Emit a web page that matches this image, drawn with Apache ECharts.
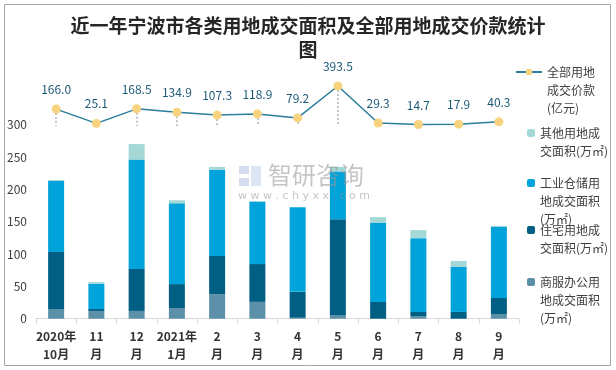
<!DOCTYPE html>
<html>
<head>
<meta charset="utf-8">
<script src="https://cdn.jsdelivr.net/npm/echarts@6/dist/echarts.min.js"></script>
<style>html,body{margin:0;padding:0;background:#fff;}#c{width:616px;height:370px;}</style>
</head>
<body>
<div id="c"></div>
<script>
var categories = ['2020年\n10月','11\n月','12\n月','2021年\n1月','2\n月','3\n月','4\n月','5\n月','6\n月','7\n月','8\n月','9\n月'];
var commercial = [15, 12, 12, 16.5, 38, 26, 1.5, 5.7, 0, 4, 0, 7.3];
var residential = [88, 3, 65, 37, 59, 58.5, 40, 148, 26, 6.5, 10.5, 24.7];
var industrial = [110, 39, 169, 125, 133, 96, 131, 74, 122, 114, 69.5, 110];
var other = [1.5, 2.6, 24, 4.7, 4.7, 1.5, 0, 7, 9, 12.5, 9.3, 1.6];
var price = [166.0, 25.1, 168.5, 134.9, 107.3, 118.9, 79.2, 393.5, 29.3, 14.7, 17.9, 40.3];
var leftTicks = [0, 50, 100, 150, 200, 250, 300];

var names = {
  price: '全部用地成交价款(亿元)',
  other: '其他用地成交面积(万㎡)',
  industrial: '工业仓储用地成交面积(万㎡)',
  residential: '住宅用地成交面积(万㎡)',
  commercial: '商服办公用地成交面积(万㎡)'
};
var legendText = {};
legendText[names.price] = '\n\n全部用地\n成交价款\n(亿元)';
legendText[names.other] = '\n其他用地成\n交面积(万㎡)';
legendText[names.industrial] = '\n\n工业仓储用\n地成交面积\n(万㎡)';
legendText[names.residential] = '\n住宅用地成\n交面积(万㎡)';
legendText[names.commercial] = '\n\n商服办公用\n地成交面积\n(万㎡)';

var colors = {
  other: '#a3d8d6',
  industrial: '#00a3da',
  residential: '#005f83',
  commercial: '#5b90a8',
  line: '#2b7d9c',
  marker: '#f8d37f'
};

var font = "'Noto Sans CJK SC', 'Noto Sans', sans-serif";
var legendBase = {
  orient: 'vertical', padding: 0, itemGap: 0,
  textStyle: {fontSize: 12, color: '#404040', lineHeight: 18, fontFamily: font},
  formatter: function (n) { return legendText[n]; },
  selectedMode: false
};
function mkLegend(name, left, top, w, h) {
  var o = Object.assign({}, legendBase);
  o.data = [name]; o.left = left; o.top = top;
  o.itemWidth = w; o.itemHeight = h; o.itemGap = 0;
  o.textStyle = Object.assign({}, legendBase.textStyle);
  return o;
}

var dropLines = price.map(function (v, i) {
  return [{xAxis: i, yAxis: v}, {xAxis: i, yAxis: 0}];
});

function barSeries(key, data) {
  return {
    name: names[key], type: 'bar', stack: 'area', data: data,
    barWidth: 16, itemStyle: {color: colors[key]}, yAxisIndex: 0
  };
}

var chart = echarts.init(document.getElementById('c'), null, {renderer: 'canvas'});
chart.setOption({
  animation: false,
  textStyle: {fontFamily: font},
  title: {
    text: '近一年宁波市各类用地成交面积及全部用地成交价款统计\n图',
    left: 'center', top: 9,
    textStyle: {fontSize: 19, fontWeight: 'bold', color: '#262626', lineHeight: 24, fontFamily: font}
  },
  legend: [
    mkLegend(names.price, 515, 27, 26, 8),
    mkLegend(names.other, 527, 106, 8, 8),
    mkLegend(names.industrial, 527, 138, 8, 8),
    mkLegend(names.residential, 527, 203, 8, 8),
    mkLegend(names.commercial, 527, 237, 8, 8)
  ],
  grid: {left: 36, right: 97, top: 60, bottom: 51.3},
  xAxis: {
    type: 'category', data: categories, boundaryGap: true,
    axisLine: {lineStyle: {color: '#d9d9d9'}},
    axisTick: {show: true, length: 5, lineStyle: {color: '#d9d9d9'}},
    axisLabel: {fontSize: 12, fontWeight: 'bold', color: '#333', lineHeight: 18, margin: 9, interval: 0, fontFamily: font}
  },
  yAxis: [
    {
      type: 'value', min: 0, max: 400, interval: 50,
      axisLine: {show: false}, axisTick: {show: false}, splitLine: {show: false},
      axisLabel: {
        fontSize: 12, color: '#404040', margin: 9,
        formatter: function (v) { return leftTicks.indexOf(v) >= 0 ? String(v) : ''; }
      }
    },
    {
      type: 'value', min: -1900, max: 650, show: false, splitLine: {show: false}
    }
  ],
  series: [
    barSeries('commercial', commercial),
    barSeries('residential', residential),
    barSeries('industrial', industrial),
    barSeries('other', other),
    {
      name: names.price, type: 'line', yAxisIndex: 1, data: price,
      symbol: 'circle', symbolSize: 9,
      lineStyle: {color: colors.line, width: 1.5},
      itemStyle: {color: colors.marker, borderWidth: 0},
      z: 5,
      label: {
        show: true, position: 'top', distance: 9, fontSize: 12, color: '#1f5a78',
        formatter: function (p) { return p.value.toFixed(1); }
      },
      markLine: {
        silent: true, symbol: 'none', animation: false,
        label: {show: false},
        lineStyle: {color: '#c4c4c4', width: 2, type: [2, 2]},
        emphasis: {disabled: true},
        data: dropLines
      }
    }
  ],
  graphic: [
    {type: 'rect', shape: {x: 4.5, y: 4.5, width: 606, height: 361}, style: {fill: 'none', stroke: '#a6a6a6', lineWidth: 1}, z: 100, silent: true},
    {type: 'rect', shape: {x: 239, y: 166, width: 10, height: 8}, style: {fill: 'rgba(160,180,215,0.45)'}, z: 100, silent: true},
    {type: 'rect', shape: {x: 239, y: 178, width: 10, height: 8}, style: {fill: 'rgba(160,180,215,0.45)'}, z: 100, silent: true},
    {type: 'rect', shape: {x: 251, y: 166, width: 10, height: 20}, style: {fill: 'rgba(175,205,230,0.45)'}, z: 100, silent: true},
    {type: 'text', left: 268, top: 163, style: {text: '智研咨询', font: "24px 'Noto Sans CJK SC'", fill: 'rgba(150,150,150,0.55)'}, z: 100, silent: true},
    {type: 'text', left: 238, top: 191, style: {text: 'w w w . c h y x x . c o m', font: "11px 'DejaVu Sans'", fill: 'rgba(150,150,150,0.55)'}, z: 100, silent: true}
  ]
});
</script>
</body>
</html>
